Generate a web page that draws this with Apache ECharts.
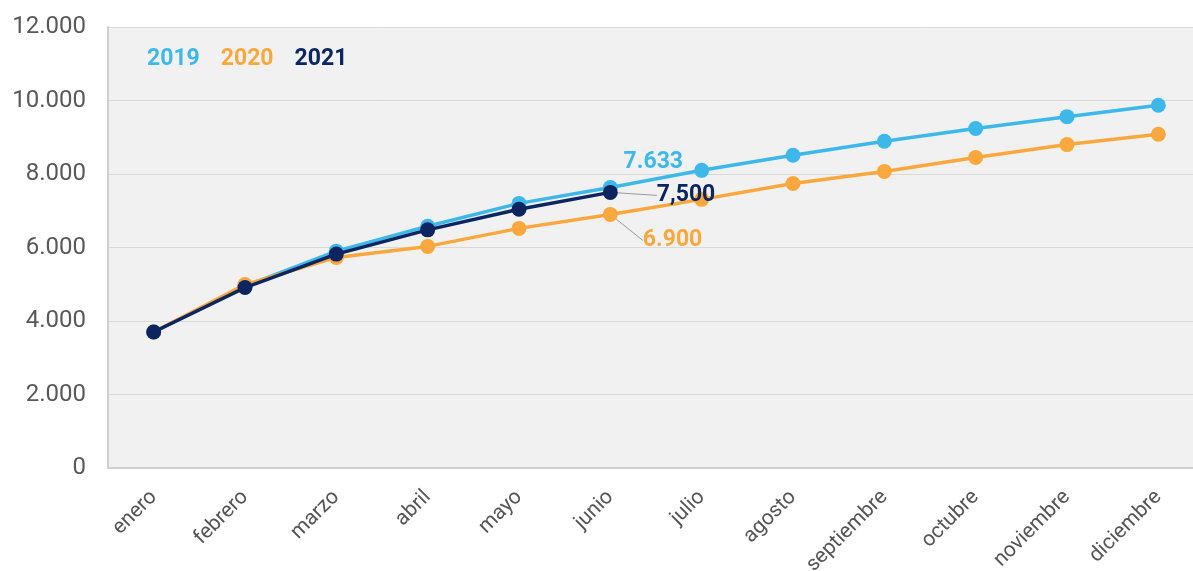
<!DOCTYPE html>
<html><head><meta charset="utf-8">
<script src="https://cdn.jsdelivr.net/npm/echarts@6/dist/echarts.min.js"></script>
<style>html,body{margin:0;padding:0;background:#fff}#c{width:1193px;height:571px}</style>
</head><body><div id="c"></div>
<script>
const months = ['enero','febrero','marzo','abril','mayo','junio','julio','agosto','septiembre','octubre','noviembre','diciembre'];
const s2019 = [3700,4950,5900,6580,7200,7633,8100,8510,8890,9240,9560,9870];
const s2020 = [3700,4990,5730,6030,6520,6900,7310,7740,8070,8450,8800,9080];
const s2021 = [3700,4910,5820,6480,7040,7500];
const yTicks = [0,2000,4000,6000,8000,10000,12000];
const names = ['2019','2020','2021'];
const colors = ['#3db8e8','#fca83f','#0b2560'];
const labelIdx = 5;

function fmt(v, sep){ return String(v).replace(/\B(?=(\d{3})+(?!\d))/g, sep); }

const labelCfg = [
  {position:'top', offset:[43,0], sep:'.', dx:0, dy:0, line:false},
  {position:'right', offset:[0,0], sep:'.', dx:19, dy:26, line:true},
  {position:'right', offset:[0,0], sep:',', dx:33, dy:3, line:true}
];

function mkSeries(i, arr){
  const cfg = labelCfg[i];
  return {
    name: names[i], type:'line', data: arr.map((v,k)=> k===labelIdx ? {
      value:v,
      label:{show:true, position:cfg.position, offset:cfg.offset, distance:6,
        formatter:()=>fmt(v,cfg.sep), color:colors[i], fontSize:23, fontWeight:'bold', fontFamily:'Roboto'},
      labelLine:{show:cfg.line, lineStyle:{color:'#9a9a9a', width:1}}
    } : v),
    symbol:'circle', symbolSize:15, z: 10+i,
    lineStyle:{width:3.5, color:colors[i]}, itemStyle:{color:colors[i]},
    labelLayout: cfg.line ? {dx:cfg.dx, dy:cfg.dy} : undefined,
    labelLine: {show:cfg.line, smooth:false, lineStyle:{color:'#9a9a9a', width:1}},
    emphasis:{disabled:true}, animation:false
  };
}

const chart = echarts.init(document.getElementById('c'));
chart.setOption({
  animation:false,
  grid:{left:108, top:27, width:1096, height:441, show:true, backgroundColor:'#f1f1f1', borderWidth:0, outerBoundsMode:'none', containLabel:false},
  legend:{left:137, top:43, icon:'none', itemWidth:0, itemGap:16,
    data: names.map((n,i)=>({name:n, textStyle:{color:colors[i], fontSize:23, fontWeight:'bold', fontFamily:'Roboto'}}))},
  xAxis:{type:'category', data:months, boundaryGap:true,
    axisLine:{show:true, lineStyle:{color:'#cfcfcf', width:2}}, axisTick:{show:false},
    axisLabel:{rotate:45, fontSize:21, color:'#555', fontFamily:'Roboto', margin:26, interval:0}},
  yAxis:{type:'value', min:0, max:12000, interval:2000,
    axisLine:{show:true, lineStyle:{color:'#cfcfcf', width:2}}, axisTick:{show:false},
    splitLine:{lineStyle:{color:'#d9d9d9', width:1}},
    axisLabel:{fontSize:24, color:'#595959', fontFamily:'Roboto', margin:22, formatter:v=>fmt(v,'.')}},
  series:[mkSeries(0,s2019), mkSeries(1,s2020), mkSeries(2,s2021)]
});
</script></body></html>
